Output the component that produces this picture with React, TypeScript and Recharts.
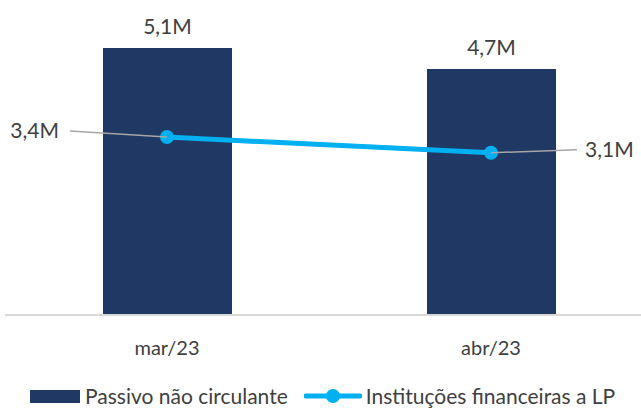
import { ComposedChart, Bar, Line, XAxis, YAxis, LabelList } from "recharts";

const months = ["mar/23", "abr/23"];
const passivo = [5.1, 4.7];
const instituicoes = [3.4, 3.1];
const passivoLabels = ["5,1M", "4,7M"];
const instLabels = ["3,4M", "3,1M"];

const data = months.map((m, i) => ({
  month: m,
  passivo: passivo[i],
  inst: instituicoes[i],
}));

const FONT = "Lato, 'Open Sans', sans-serif";
const NAVY = "#1F3864";
const BLUE = "#00B0F0";

// leader line + label for the line series
function LineLabel(props: any) {
  const { x, y, index } = props;
  if (index === 0) {
    return (
      <g>
        <line x1={x} y1={y} x2={x - 97} y2={y - 6} stroke="#A6A6A6" strokeWidth={1.5} />
        <text x={x - 108} y={y - 6} dy={7} textAnchor="end" fontSize={21} fill="#404040" fontFamily={FONT}>
          {instLabels[index]}
        </text>
      </g>
    );
  }
  return (
    <g>
      <line x1={x} y1={y} x2={x + 86} y2={y - 3} stroke="#A6A6A6" strokeWidth={1.5} />
      <text x={x + 94} y={y - 3} dy={7} textAnchor="start" fontSize={21} fill="#404040" fontFamily={FONT}>
        {instLabels[index]}
      </text>
    </g>
  );
}

export default function App() {
  return (
    <div
      style={{
        position: "absolute",
        left: 0,
        top: 0,
        width: 641,
        height: 410,
        overflow: "hidden",
        background: "#fff",
        fontFamily: FONT,
      }}
    >
      <ComposedChart
        width={660}
        height={410}
        data={data}
        margin={{ top: 1, right: 7, left: 5, bottom: 55 }}
      >
        <XAxis
          dataKey="month"
          height={40}
          axisLine={{ stroke: "#D9D9D9", strokeWidth: 2 }}
          tickLine={false}
          tick={{ fill: "#404040", fontSize: 20, fontFamily: FONT }}
          tickMargin={20}
        />
        <YAxis hide domain={[0, 6]} />
        <Bar dataKey="passivo" fill={NAVY} barSize={129} isAnimationActive={false}>
          <LabelList
            dataKey="passivo"
            position="top"
            offset={14}
            formatter={(v: any) => passivoLabels[passivo.indexOf(v)]}
            style={{ fill: "#404040", fontSize: 21, fontFamily: FONT }}
          />
        </Bar>
        <Line
          dataKey="inst"
          stroke={BLUE}
          strokeWidth={5}
          dot={{ r: 7, fill: BLUE, stroke: BLUE, strokeWidth: 0 }}
          isAnimationActive={false}
        >
          <LabelList dataKey="inst" content={<LineLabel />} />
        </Line>
      </ComposedChart>
      <div
        style={{
          position: "absolute",
          top: 384,
          left: 30,
          display: "flex",
          alignItems: "center",
          fontSize: 21,
          lineHeight: "24px",
          color: "#404040",
          whiteSpace: "nowrap",
        }}
      >
        <span style={{ display: "inline-block", width: 50, height: 13, background: NAVY, marginRight: 5 }} />
        <span>Passivo não circulante</span>
        <svg width={58} height={16} style={{ marginLeft: 16, marginRight: 4 }}>
          <line x1={2} y1={8} x2={56} y2={8} stroke={BLUE} strokeWidth={5} strokeLinecap="round" />
          <circle cx={29} cy={8} r={7} fill={BLUE} />
        </svg>
        <span>Instituções financeiras a LP</span>
      </div>
    </div>
  );
}
